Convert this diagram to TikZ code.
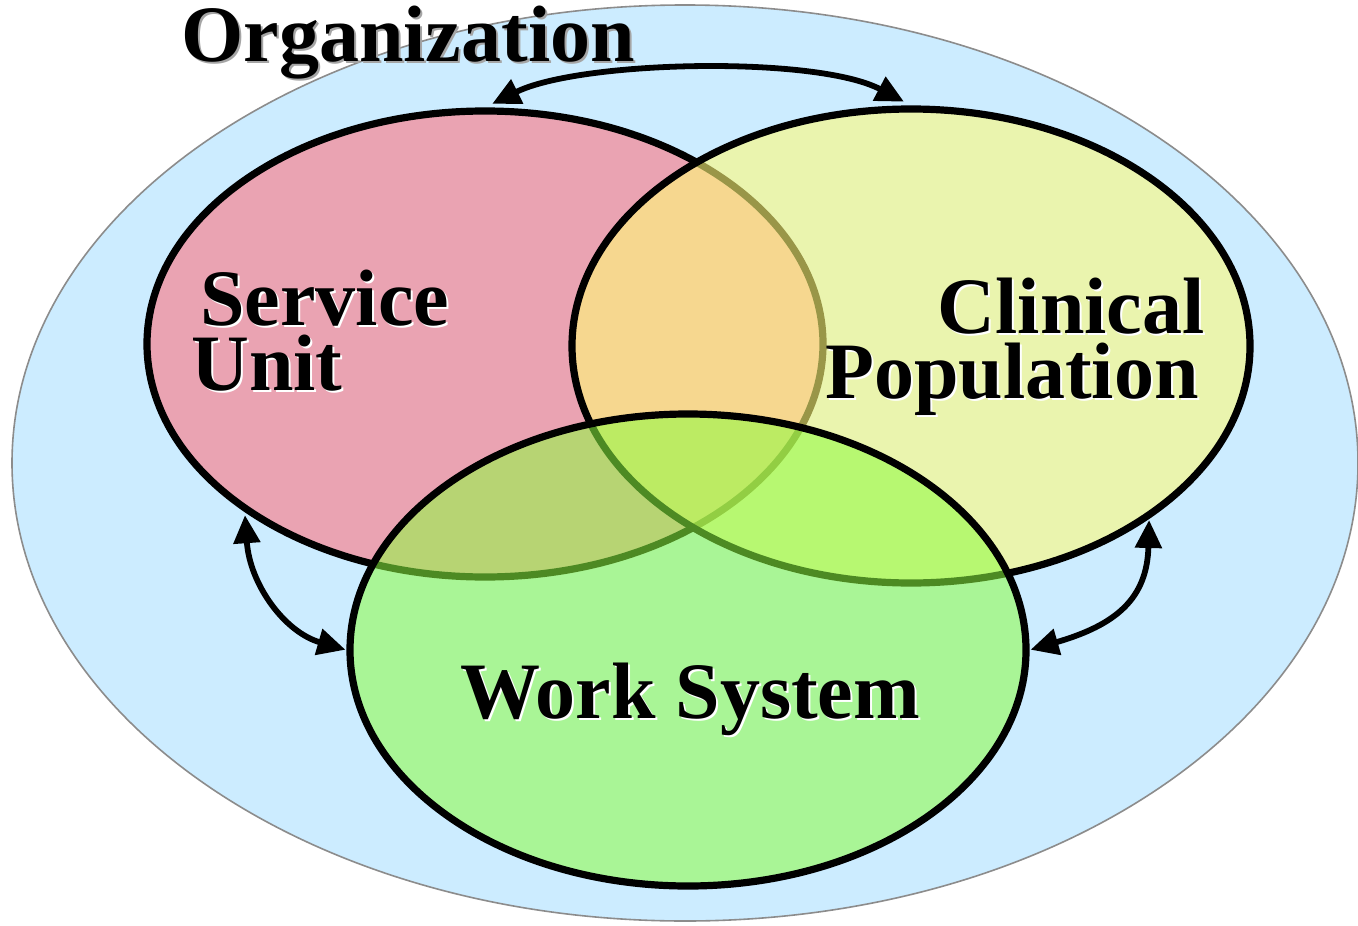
\documentclass[tikz,border=0pt]{standalone}
\usepackage{fontspec}
\setmainfont{Liberation Serif}
\usetikzlibrary{shapes.geometric,arrows.meta}
\definecolor{orgblue}{RGB}{204,236,255}
\definecolor{orgline}{RGB}{140,140,140}
\definecolor{svcred}{RGB}{234,163,178}
\definecolor{clinyel}{RGB}{255,250,120}
\definecolor{workgrn}{RGB}{142,253,64}
\definecolor{orgshadow}{RGB}{165,165,165}
% text with a drop shadow, set in one box
\newcommand\shtext[2]{\rlap{\kern1pt\raisebox{-1pt}{\textcolor{#1}{#2}}}#2}
\begin{document}
\begin{tikzpicture}[x=0.5pt,y=-0.5pt,
  venn/.style={ellipse, draw=black, line width=3.6pt, inner sep=0pt},
  link/.style={line width=2.9pt, {Triangle[length=14pt,width=13pt]}-{Triangle[length=14pt,width=13pt]}},
  bigtext/.style={font=\fontsize{40}{48}\selectfont\bfseries, inner sep=0pt, text=black},
]
\useasboundingbox (0,0) rectangle (1358,925);
\clip (0,0) rectangle (1358,925);
\fill[white] (0,0) rectangle (1358,925);

% organization
\node[ellipse, draw=orgline, line width=0.8pt, fill=orgblue, inner sep=0pt,
      minimum width=673pt, minimum height=458pt] (org) at (685,463) {};

% three sets
\node[venn, fill=svcred, minimum width=338pt, minimum height=233pt] (svc) at (485,344) {};
\node[venn, fill=clinyel, fill opacity=0.6, minimum width=339pt, minimum height=237pt] (clin) at (911,346) {};
\node[venn, fill=workgrn, fill opacity=0.55, minimum width=338pt, minimum height=236pt] (work) at (688,650) {};

% connectors
\draw[link, shorten <=4pt, shorten >=4pt] (svc.north) .. controls +(95,-47) and +(-95,-50) .. (clin.north);
\draw[link, shorten <=1.5pt, shorten >=0.5pt] (svc.215) .. controls +(5,72) and +(-62,-18) .. (work.west);
\draw[link, shorten <=0.5pt, shorten >=0.5pt] (clin.324) .. controls +(-2,80) and +(86,-25) .. (work.east);

% labels
\node[bigtext, anchor=base west] (orgt) at (180,62) {\shtext{orgshadow}{\kern0.5pt Organization}};

\node[bigtext, anchor=base west] (svct) at (191,390)
  {\rlap{\raisebox{32.5pt}{\hspace{4.5pt}\shtext{white}{Service}}}\shtext{white}{Unit}};

\node[bigtext, anchor=base east] (clint) at (1199,398)
  {\shtext{white}{Population}\llap{\raisebox{32.5pt}{\shtext{white}{Clinical}\hspace{-3pt}}}};

\node[bigtext, anchor=base] (workt) at (690,718) {\shtext{white}{Work System}};
\end{tikzpicture}
\end{document}
